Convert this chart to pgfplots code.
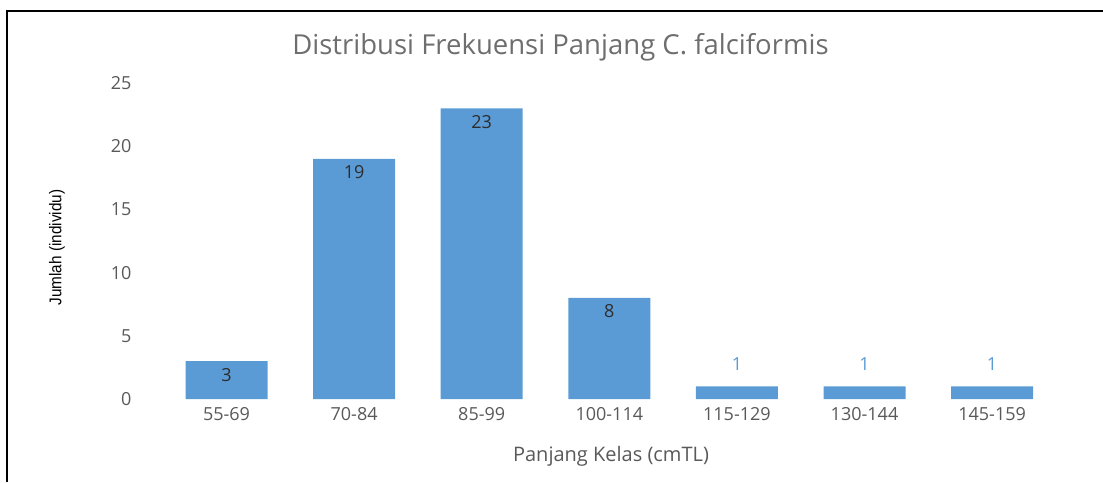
\documentclass[border=0pt]{standalone}
\usepackage{pgfplots}
\pgfplotsset{compat=1.18}
\usepackage{pgfplotstable}
\usepackage{fontspec}
\setmainfont{Open Sans}
\newfontfamily\narrowfont[FakeStretch=0.9]{Liberation Sans}
\definecolor{barblue}{RGB}{91,155,213}
\definecolor{ticktext}{RGB}{89,89,89}
\definecolor{titletext}{RGB}{110,110,110}
\definecolor{lbltext}{RGB}{45,45,45}

% frequency per length class (cm TL)
\pgfplotstableread{
x n
0 3
1 19
2 23
3 8
4 1
5 1
6 1
}\freqtable

\begin{document}
\begin{tikzpicture}
\useasboundingbox (0,0) rectangle (1103pt,482pt);
\draw[line width=2pt, black] (7pt,0) -- (7pt,470.5pt) -- (1103pt,470.5pt);
\begin{axis}[
    at={(162.7pt,83pt)}, anchor=south west,
    scale only axis, width=893.2pt, height=316pt,
    ybar, bar width=82pt,
    xmin=-0.5, xmax=6.5, ymin=0, ymax=25,
    xtick=data,
    xticklabels={55-69,70-84,85-99,100-114,115-129,130-144,145-159},
    ytick={0,5,...,25},
    axis x line=bottom, axis y line=left, axis line style={draw=none},
    major tick length=0pt,
    tick label style={font=\fontsize{18}{20}\selectfont, text=ticktext},
    /pgf/number format/assume math mode=true,
    yticklabel style={anchor=east, inner sep=0pt, xshift=-31pt},
    xticklabel style={anchor=north, inner sep=0pt, yshift=-8pt},
    clip=false,
]
\addplot[fill=barblue, draw=none,
    visualization depends on={rawy \as \rawy},
    nodes near coords={\ifdim\rawy pt>2pt\color{lbltext}\else\color{barblue}\fi\pgfmathprintnumber{\rawy}},
    every node near coord/.append style={anchor=center, inner sep=0pt,
        font=\fontsize{18}{20}\selectfont, yshift={\rawy>2 ? -13.5 : 22}},
] table[x=x, y=n] {\freqtable};
\end{axis}
\node[text=titletext, font=\fontsize{27.5}{30}\selectfont] at (560.5pt,435pt) {Distribusi Frekuensi Panjang C. falciformis};
\node[text=ticktext, font=\fontsize{20}{22}\selectfont] at (611pt,26pt) {Panjang Kelas (cmTL)};
\node[rotate=90, text=black, font=\narrowfont\fontsize{17}{20}\selectfont] at (57pt,234.5pt) {Jumlah (individu)};
\end{tikzpicture}
\end{document}
